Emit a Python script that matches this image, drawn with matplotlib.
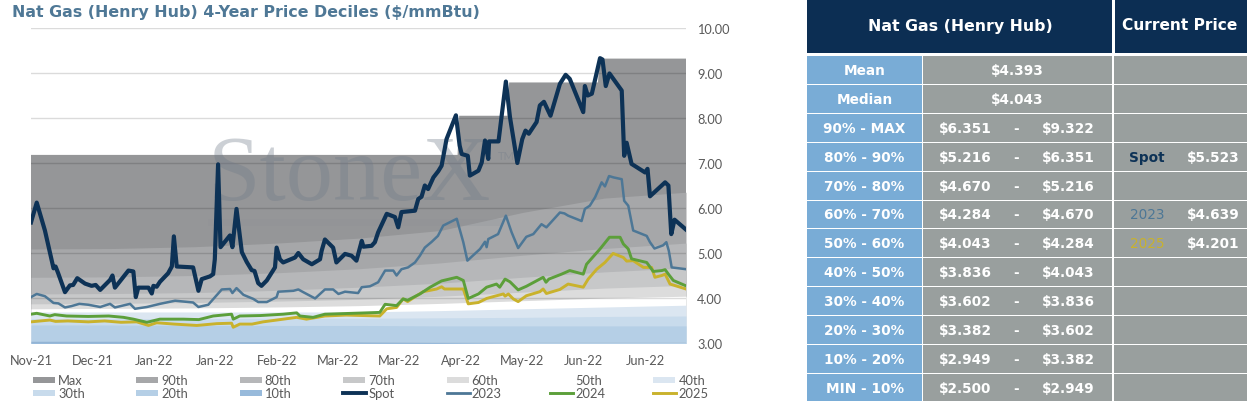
import matplotlib
matplotlib.use('Agg')
import matplotlib.pyplot as plt
from matplotlib.patches import Rectangle
from matplotlib.lines import Line2D

plt.rcParams['font.family'] = ['Lato', 'DejaVu Sans']
WIDE = 'DejaVu Sans'   # wide face for title and table (closest to the original's metrics)

# ========== data ==========
tick_pos = [0, 15, 30, 45, 60, 75, 90, 105, 120, 135, 150]
tick_labels = ['Nov-21', 'Dec-21', 'Jan-22', 'Jan-22', 'Feb-22', 'Mar-22',
               'Mar-22', 'Apr-22', 'May-22', 'Jun-22', 'Jun-22']

spot_x = [0, 1.4, 3.4, 5.5, 6.0, 6.6, 8.3, 9.5, 10.3, 11.3, 13.2, 14.8, 15.8, 16.9,
          19.3, 19.9, 20.5, 23.8, 25.0, 25.6, 26.2, 28.7, 29.5, 29.9, 30.7, 31.5,
          33.5, 34.4, 34.9, 35.6, 39.6, 40.9, 41.7, 43.7, 44.5, 44.9, 45.7, 46.3,
          48.6, 49.2, 50.2, 51.5, 52.7, 53.9, 54.6, 55.5, 56.3, 57.6, 59.6, 60.0,
          60.8, 61.6, 64.5, 65.3, 66.5, 68.6, 70.6, 71.0, 71.8, 73.8, 74.6, 76.7,
          78.3, 79.5, 80.8, 81.2, 83.2, 84.0, 84.8, 86.9, 88.9, 89.7, 90.5, 93.8,
          94.6, 95.4, 96.2, 97.0, 98.3, 99.5, 100.3, 101.5, 103.8, 104.7, 105.2,
          106.7, 107.2, 109.3, 110.1, 110.9, 111.7, 111.9, 114.2, 116.0, 117.0,
          118.8, 120.0, 120.8, 121.6, 123.5, 124.3, 125.3, 126.9, 129.2, 130.6,
          131.6, 134.9, 135.3, 136.0, 137.0, 139.0, 139.6, 140.4, 141.3, 143.9,
          144.3, 144.9, 145.5, 146.7, 150.0, 150.6, 151.2, 154.9, 155.7, 156.4,
          157.2, 160]
spot = [5.68, 6.12, 5.50, 4.66, 4.70, 4.56, 4.13, 4.28, 4.29, 4.44, 4.32, 4.27, 4.29, 4.18,
        4.40, 4.50, 4.23, 4.61, 4.59, 4.02, 4.23, 4.23, 4.10, 4.27, 4.25, 4.36,
        4.55, 4.70, 5.37, 4.70, 4.68, 4.16, 4.42, 4.48, 4.53, 4.86, 6.97, 5.13,
        5.39, 5.13, 5.98, 5.02, 4.80, 4.62, 4.60, 4.33, 4.27, 4.39, 4.68, 5.12,
        4.86, 4.79, 4.90, 5.00, 4.86, 4.75, 4.86, 5.05, 5.30, 5.12, 4.79, 4.98,
        4.94, 4.83, 5.27, 5.14, 5.16, 5.24, 5.46, 5.87, 5.80, 5.57, 5.91, 5.94,
        6.20, 6.25, 6.50, 6.42, 6.68, 6.82, 6.94, 7.53, 8.06, 7.39, 7.20,
        7.16, 6.72, 6.83, 7.01, 7.50, 7.09, 7.48, 7.48, 8.81, 8.02,
        7.00, 7.53, 7.72, 7.65, 7.91, 8.28, 8.36, 8.05, 8.76, 8.96,
        8.87, 8.13, 8.71, 8.50, 8.54, 9.33, 9.30, 8.71, 8.99, 8.66,
        8.61, 7.16, 7.45, 6.98, 6.79, 6.87, 6.26, 6.57, 6.50, 5.42,
        5.74, 5.52]

y2023_x = [0, 1.4, 3.4, 5.5, 6.7, 8.3, 9.9, 11.8, 14.0, 16.9, 19.3, 20.5, 24.2, 25.4,
           28.3, 31.5, 35.2, 39.6, 40.9, 43.3, 46.6, 48.6, 49.2, 50.2, 51.9, 54.3,
           55.5, 57.6, 60.0, 60.4, 64.1, 65.3, 66.5, 69.4, 70.6, 71.8, 73.8, 75.1,
           76.7, 79.9, 80.8, 82.8, 84.8, 86.5, 88.5, 89.3, 90.5, 92.1, 93.8, 95.0,
           96.2, 97.9, 99.4, 100.7, 104.0, 105.6, 106.6, 109.7, 110.9, 111.3, 111.7,
           114.1, 116.0, 117.4, 119.0, 121.0, 122.7, 124.7, 125.9, 129.2, 130.3,
           131.2, 134.5, 135.3, 136.5, 137.8, 139.4, 140.2, 141.2, 142.3, 144.3,
           144.9, 145.9, 147.1, 150.4, 151.2, 152.3, 154.4, 155.2, 155.8, 156.5, 160]
y2023 = [4.02, 4.09, 4.04, 3.89, 3.88, 3.79, 3.82, 3.87, 3.85, 3.80, 3.87, 3.79, 3.87, 3.76,
         3.80, 3.87, 3.94, 3.90, 3.80, 3.85, 4.19, 4.20, 4.11, 4.22, 4.07, 3.98,
         3.91, 3.91, 4.02, 4.14, 4.16, 4.19, 4.13, 3.99, 4.09, 4.19, 4.19, 4.09,
         4.14, 4.11, 4.24, 4.26, 4.35, 4.61, 4.61, 4.50, 4.64, 4.68, 4.79, 4.94,
         5.12, 5.25, 5.38, 5.61, 5.76, 5.24, 4.83, 5.09, 5.25, 5.13, 5.31,
         5.42, 5.83, 5.46, 5.11, 5.36, 5.42, 5.64, 5.57, 5.90, 5.88,
         5.83, 5.71, 5.98, 6.05, 6.24, 6.57, 6.48, 6.71, 6.68, 6.64,
         6.16, 6.05, 5.50, 5.38, 5.24, 5.10, 5.17, 5.24, 5.05, 4.68, 4.64]

y2024_x = [0, 1.4, 4.6, 5.8, 8.7, 14, 19, 22.6, 25.0, 28.3, 31.5, 37.2, 41, 44.5, 49.0,
           49.4, 51, 56, 61.6, 64.9, 65.7, 68.9, 71.8, 82, 85.2, 86.5, 89.3, 90.9, 92,
           95.0, 97.5, 100.3, 104, 105.6, 106.8, 109.3, 111.3, 113.7, 114.5, 115.8,
           117, 119.0, 121.0, 125.1, 125.8, 126.5, 129.6, 131.6, 134.9, 135.7, 139,
           141.3, 143.9, 144.7, 145.9, 146.7, 150.4, 152, 154.1, 154.9, 155.7, 156.9, 160]
y2024 = [3.64, 3.66, 3.60, 3.63, 3.60, 3.59, 3.60, 3.57, 3.53, 3.46, 3.53, 3.53, 3.52, 3.60, 3.64,
         3.53, 3.60, 3.61, 3.64, 3.67, 3.60, 3.57, 3.64, 3.67, 3.68, 3.86, 3.83, 3.98, 3.95,
         4.09, 4.24, 4.38, 4.46, 4.39, 3.99, 4.09, 4.24, 4.31, 4.24, 4.42,
         4.36, 4.18, 4.26, 4.46, 4.35, 4.42, 4.53, 4.61, 4.53, 4.75, 5.09,
         5.35, 5.35, 5.20, 5.09, 4.87, 4.79, 4.59, 4.61, 4.63, 4.53, 4.39, 4.27]

y2025_x = [0, 4.6, 6, 9, 14, 18, 22, 25.8, 28.7, 30.7, 35, 40.5, 45.4, 49, 49.4, 51, 54,
           56.7, 60, 64.9, 67.3, 71.8, 77, 85.2, 86.9, 89.3, 90.9, 92, 94.2, 95.8, 99.1,
           100.3, 101, 105.6, 106.8, 109.3, 111.3, 113.3, 115.4, 115.8, 116.6, 117.8,
           119.0, 121.0, 124.3, 125.1, 125.9, 129.2, 131.2, 134.9, 136.1, 138.2, 140.2,
           142.2, 144.7, 145.5, 147.1, 149.6, 151.6, 152.4, 154.1, 154.9, 156.1, 160]
y2025 = [3.47, 3.51, 3.48, 3.49, 3.47, 3.49, 3.46, 3.47, 3.39, 3.45, 3.42, 3.39, 3.43, 3.44, 3.35, 3.42, 3.42,
         3.47, 3.51, 3.57, 3.53, 3.60, 3.62, 3.60, 3.76, 3.79, 3.98, 3.92, 4.05, 4.14, 4.20,
         4.25, 4.20, 4.20, 3.87, 3.90, 3.99, 4.04, 4.09, 4.04, 4.09, 3.98,
         3.92, 4.05, 4.14, 4.20, 4.10, 4.19, 4.31, 4.24, 4.42, 4.64, 4.79,
         4.99, 4.90, 4.82, 4.83, 4.68, 4.68, 4.46, 4.50, 4.53, 4.31, 4.20]

# decile bands
max_x = [0, 104.2, 104.6, 116.4, 116.8, 138.5, 138.9, 160]
p_max = [7.18, 7.18, 8.05, 8.05, 8.79, 8.79, 9.32, 9.32]
band_x = [0, 20, 40, 60, 80, 100, 120, 140, 160]
p90 = [5.09, 5.10, 5.14, 5.22, 5.33, 5.50, 5.90, 6.22, 6.35]
p80 = [4.46, 4.47, 4.50, 4.56, 4.65, 4.78, 4.95, 5.10, 5.22]
p70 = [4.09, 4.10, 4.12, 4.17, 4.24, 4.33, 4.46, 4.58, 4.67]
p60 = [3.87, 3.88, 3.90, 3.93, 3.97, 4.04, 4.13, 4.22, 4.28]
p50 = [3.76, 3.77, 3.78, 3.80, 3.83, 3.88, 3.94, 4.00, 4.04]
p40 = [3.69, 3.69, 3.69, 3.69, 3.69, 3.72, 3.76, 3.80, 3.84]
p30 = [3.54, 3.54, 3.54, 3.55, 3.55, 3.56, 3.57, 3.59, 3.60]
p20 = [3.40, 3.40, 3.39, 3.39, 3.39, 3.38, 3.38, 3.38, 3.38]
p10 = [3.04, 3.04, 3.03, 3.03, 3.02, 3.01, 2.99, 2.97, 2.95]

# table
row_labels = ['Mean', 'Median', '90% - MAX', '80% - 90%', '70% - 80%', '60% - 70%',
              '50% - 60%', '40% - 50%', '30% - 40%', '20% - 30%', '10% - 20%', 'MIN - 10%']
mean_val = '$4.393'
median_val = '$4.043'
range_low = ['$6.351', '$5.216', '$4.670', '$4.284', '$4.043', '$3.836', '$3.602',
             '$3.382', '$2.949', '$2.500']
range_high = ['$9.322', '$6.351', '$5.216', '$4.670', '$4.284', '$4.043', '$3.836',
              '$3.602', '$3.382', '$2.949']
# table row -> (series, current value)
cur_names = {3: 'Spot', 5: '2023', 6: '2025'}
cur_vals = {3: '$5.523', 5: '$4.639', 6: '$4.201'}

# ========== colours ==========
C_SPOT = '#0d3256'
C_2023 = '#4d7796'
C_2024 = '#5c9f3a'
C_2025 = '#c9b22c'
band_colors = {'Max': '#959698', '90th': '#a6a7a9', '80th': '#b6b7b9', '70th': '#c7c8c9',
               '60th': '#dcdcdc', '50th': '#ffffff', '40th': '#dbe6f1', '30th': '#c8dbec',
               '20th': '#b5cfe6', '10th': '#98badb'}
NAVY = '#0c2e53'
LBLUE = '#79acd6'
GRAY = '#999f9e'
TXT = '#595959'

W, H = 1247, 402
fig = plt.figure(figsize=(W / 100, H / 100), dpi=100)


def fx(px):
    return px / W


def fy(py):
    return 1 - py / H


# ========== chart ==========
ax = fig.add_axes([fx(31), fy(344), 655 / W, 315 / H])
ax.set_xlim(0, 160)
ax.set_ylim(3, 10)

bands = [('Max', max_x, p_max), ('90th', band_x, p90), ('80th', band_x, p80),
         ('70th', band_x, p70), ('60th', band_x, p60), ('50th', band_x, p50),
         ('40th', band_x, p40), ('30th', band_x, p30), ('20th', band_x, p20),
         ('10th', band_x, p10)]
for k, (name, bx, bv) in enumerate(bands):
    ax.fill_between(bx, 0, bv, color=band_colors[name], lw=0, zorder=1 + k * 0.01)

for v in range(3, 11):
    ax.axhline(v, color='black', alpha=0.14, lw=1, zorder=1.5)

# watermark
ax.text(0.27, 0.457, 'StoneX', transform=ax.transAxes, family='Liberation Serif',
        fontsize=68, color='#6f7a88', alpha=0.35, ha='left', va='baseline', zorder=1.6)
ax.text(0.712, 0.585, 'TM', transform=ax.transAxes, fontsize=8, color='#6f7a88',
        alpha=0.35, zorder=1.6)
ax.add_patch(Rectangle((0.27, 0.37), 0.45, 0.025, transform=ax.transAxes,
                       color='#8a8f96', alpha=0.18, lw=0, zorder=1.6))

ax.plot(y2025_x, y2025, color=C_2025, lw=2.1, zorder=3)
ax.plot(y2024_x, y2024, color=C_2024, lw=2.1, zorder=3.1)
ax.plot(y2023_x, y2023, color=C_2023, lw=1.8, zorder=3.2)
ax.plot(spot_x, spot, color=C_SPOT, lw=3.0, zorder=3.3)

ax.yaxis.tick_right()
ax.set_yticks(range(3, 11))
ax.set_yticklabels([f'{v:.2f}' for v in range(3, 11)])
ax.set_xticks(tick_pos)
ax.set_xticklabels(tick_labels)
ax.tick_params(axis='both', length=0, labelsize=9.2, labelcolor=TXT)
ax.tick_params(axis='y', pad=8)
ax.tick_params(axis='x', pad=8)
for s in ax.spines.values():
    s.set_visible(False)

fig.text(fx(12), fy(13), 'Nat Gas (Henry Hub) 4-Year Price Deciles ($/mmBtu)',
         family=WIDE, fontsize=11.4, fontweight='bold', color='#4f7896',
         va='center', ha='left')

# ========== legend (Excel style, fixed pitch) ==========
leg_rows = [['Max', '90th', '80th', '70th', '60th', '50th', '40th'],
            ['30th', '20th', '10th', 'Spot', '2023', '2024', '2025']]
line_items = {'Spot': (C_SPOT, 2.8), '2023': (C_2023, 2.0), '2024': (C_2024, 2.1),
              '2025': (C_2025, 2.1)}
for r, row in enumerate(leg_rows):
    yc = 381 + r * 13
    for c, name in enumerate(row):
        x0 = 33 + c * 103.4
        if name in line_items:
            col, lw = line_items[name]
            fig.add_artist(Line2D([fx(x0), fx(x0 + 23)], [fy(yc), fy(yc)], color=col, lw=lw))
        else:
            fig.add_artist(Rectangle((fx(x0), fy(yc + 3)), 22 / W, 6 / H,
                                     color=band_colors[name], lw=0, transform=fig.transFigure))
        fig.text(fx(x0 + 25), fy(yc), name, fontsize=9.3, color=TXT, va='center', ha='left')

# ========== table ==========
def cell(x0, y0, x1, y1, color):
    fig.add_artist(Rectangle((fx(x0), fy(y1)), (x1 - x0) / W, (y1 - y0) / H,
                             color=color, lw=0, transform=fig.transFigure))


cell(807, 0, 1112, 54, NAVY)
cell(1115, 0, 1247, 54, NAVY)
fig.text(fx(960), fy(26), 'Nat Gas (Henry Hub)', family=WIDE, fontsize=11.3, fontweight='bold',
         color='white', ha='center', va='center')
fig.text(fx(1180), fy(26), 'Current Price', family=WIDE, fontsize=11.1, fontweight='bold',
         color='white', ha='center', va='center')

pitch = 28.9
for i, lab in enumerate(row_labels):
    top = 57 + i * pitch
    bot = top + pitch - 1
    yc = (top + bot) / 2
    cell(807, top, 922, bot, LBLUE)
    cell(923, top, 1112, bot, GRAY)
    cell(1114, top, 1247, bot, GRAY)
    kw = dict(family=WIDE, fontsize=9.8, fontweight='bold', color='white', va='center')
    fig.text(fx(864.5), fy(yc), lab, ha='center', **kw)
    if i == 0:
        fig.text(fx(1017), fy(yc), mean_val, ha='center', **kw)
    elif i == 1:
        fig.text(fx(1017), fy(yc), median_val, ha='center', **kw)
    else:
        fig.text(fx(965), fy(yc), range_low[i - 2], ha='center', **kw)
        fig.text(fx(1016), fy(yc), '-', ha='center', **kw)
        fig.text(fx(1068), fy(yc), range_high[i - 2], ha='center', **kw)
    if i in cur_names:
        nm = cur_names[i]
        ncol = {'Spot': C_SPOT, '2023': C_2023, '2025': C_2025}[nm]
        fig.text(fx(1147), fy(yc), nm, ha='center', family=WIDE, fontsize=9.8,
                 fontweight='bold' if nm == 'Spot' else 'normal', color=ncol, va='center')
        fig.text(fx(1213), fy(yc), cur_vals[i], ha='center', **kw)

fig.savefig('out.png', dpi=100)
